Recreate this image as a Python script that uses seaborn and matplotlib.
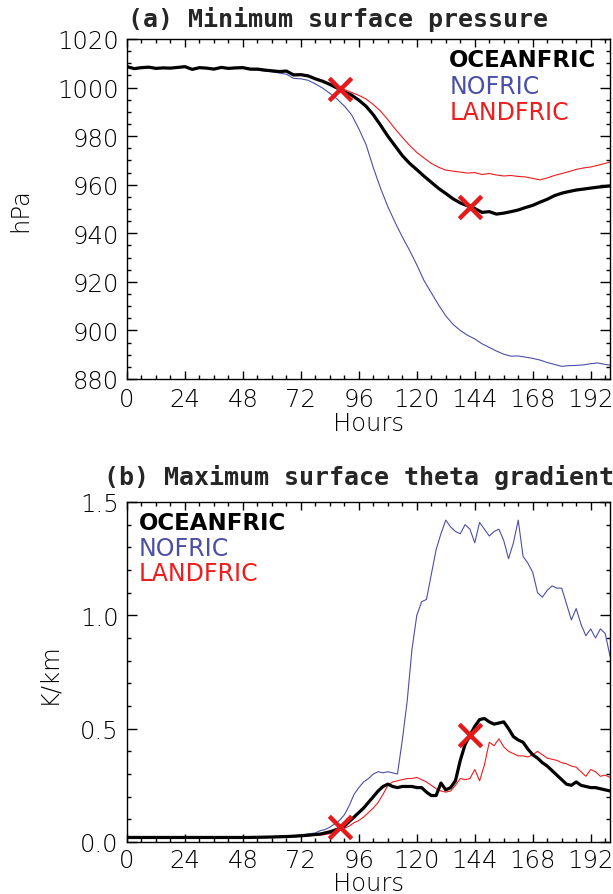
import numpy as np
import pandas as pd
import matplotlib
matplotlib.use("Agg")
import matplotlib.pyplot as plt
import seaborn as sns
from matplotlib.ticker import MultipleLocator

# ---------------- data ----------------
hours_a = list(range(0, 202, 3))
ocean_a = [1008.6, 1007.8, 1008.2, 1008.4, 1007.9, 1008.1, 1008.0, 1008.3, 1008.6, 1007.5,
           1008.2, 1008.0, 1007.6, 1008.3, 1007.9, 1008.1, 1008.2, 1007.6, 1007.6, 1007.2,
           1006.9, 1006.6, 1006.8, 1005.2, 1005.3, 1004.8, 1003.6, 1002.6, 1001.3, 999.8,
           998.2, 996.9, 994.8, 992.3, 988.8, 984.5, 980.0, 976.0, 972.0, 968.8,
           966.2, 963.5, 961.0, 958.5, 956.4, 954.2, 952.5, 951.3, 950.2, 948.6,
           948.9, 947.9, 948.3, 948.9, 949.6, 950.6, 951.5, 952.8, 954.0, 955.5,
           956.5, 957.2, 957.8, 958.2, 958.6, 959.0, 959.3, 959.6]
nofric_a = [1008.5, 1007.7, 1008.1, 1008.3, 1007.8, 1008.0, 1007.9, 1008.2, 1008.5, 1007.4,
            1008.1, 1007.9, 1007.5, 1008.2, 1007.8, 1008.0, 1008.0, 1007.4, 1007.2, 1006.8,
            1006.5, 1006.0, 1005.5, 1003.8, 1003.6, 1003.0, 1001.5, 999.8, 997.6, 995.3,
            992.4, 988.8, 983.0, 976.5, 967.0, 958.5, 951.0, 944.5, 938.5, 933.0,
            927.0, 920.5, 915.5, 910.5, 906.0, 902.5, 900.0, 898.0, 896.5, 894.5,
            893.0, 891.5, 890.2, 889.4, 889.5, 889.0, 888.5, 887.8, 886.8, 886.0,
            885.2, 885.5, 885.6, 885.8, 886.3, 886.6, 886.0, 885.6]
land_a = [1008.8, 1008.0, 1008.4, 1008.6, 1008.1, 1008.3, 1008.2, 1008.5, 1008.8, 1007.7,
          1008.4, 1008.2, 1007.8, 1008.5, 1008.1, 1008.3, 1008.4, 1007.8, 1007.8, 1007.4,
          1007.1, 1006.8, 1007.0, 1005.5, 1005.6, 1005.1, 1003.9, 1002.9, 1001.6, 1000.3,
          999.2, 998.0, 996.8, 995.3, 993.0, 990.3, 986.8, 983.0, 979.5, 976.2,
          973.3, 971.0, 968.8, 967.2, 966.0, 965.6, 965.2, 964.8, 965.0, 964.2,
          964.6, 964.0, 963.6, 963.8, 963.4, 963.2, 962.6, 962.0, 962.8, 963.8,
          964.6, 965.4, 966.3, 966.9, 967.3, 968.0, 968.8, 969.6]

hours_b = [0, 10, 20, 30, 40, 50, 60, 66, 70, 74, 78] + list(range(80, 202, 2))
ocean_b = [0.020, 0.020, 0.020, 0.020, 0.020, 0.020, 0.022, 0.024, 0.026, 0.029, 0.033,
           0.035, 0.040, 0.045, 0.052, 0.060, 0.070, 0.090, 0.110, 0.130, 0.150,
           0.175, 0.200, 0.225, 0.245, 0.255, 0.245, 0.240, 0.245, 0.245, 0.245,
           0.240, 0.240, 0.220, 0.205, 0.205, 0.260, 0.230, 0.240, 0.270, 0.360,
           0.430, 0.470, 0.510, 0.540, 0.545, 0.530, 0.520, 0.525, 0.530, 0.500,
           0.465, 0.450, 0.440, 0.410, 0.385, 0.370, 0.350, 0.335, 0.315, 0.295,
           0.275, 0.255, 0.250, 0.265, 0.250, 0.245, 0.240, 0.240, 0.235, 0.230,
           0.225]
nofric_b = [0.020, 0.020, 0.020, 0.020, 0.020, 0.021, 0.024, 0.027, 0.030, 0.034, 0.040,
            0.050, 0.055, 0.065, 0.080, 0.095, 0.120, 0.160, 0.210, 0.240, 0.265,
            0.280, 0.300, 0.310, 0.305, 0.310, 0.305, 0.300, 0.450, 0.620, 0.850,
            1.000, 1.060, 1.070, 1.180, 1.290, 1.360, 1.420, 1.390, 1.370, 1.360,
            1.400, 1.380, 1.320, 1.410, 1.380, 1.350, 1.370, 1.380, 1.330, 1.250,
            1.320, 1.420, 1.260, 1.230, 1.190, 1.100, 1.080, 1.110, 1.130, 1.120,
            1.120, 1.050, 0.980, 1.030, 0.960, 0.910, 0.940, 0.900, 0.940, 0.920,
            0.820]
land_b = [0.018, 0.018, 0.018, 0.018, 0.018, 0.019, 0.020, 0.022, 0.024, 0.026, 0.030,
          0.030, 0.033, 0.037, 0.042, 0.050, 0.060, 0.070, 0.085, 0.095, 0.110,
          0.130, 0.150, 0.175, 0.210, 0.250, 0.265, 0.270, 0.275, 0.280, 0.280,
          0.285, 0.275, 0.265, 0.250, 0.235, 0.225, 0.220, 0.225, 0.250, 0.280,
          0.275, 0.280, 0.320, 0.270, 0.340, 0.440, 0.425, 0.455, 0.420, 0.400,
          0.390, 0.380, 0.380, 0.375, 0.385, 0.400, 0.385, 0.370, 0.365, 0.360,
          0.350, 0.345, 0.335, 0.330, 0.310, 0.290, 0.320, 0.310, 0.290, 0.295,
          0.285]

mark_hours = [88, 142]
mark_a = [999.5, 951.0]
mark_b = [0.065, 0.47]

series_names = ["OCEANFRIC", "NOFRIC", "LANDFRIC"]
x_ticks = [0, 24, 48, 72, 96, 120, 144, 168, 192]

# ---------------- style ----------------
sns.set_theme(style="ticks")
plt.rcParams["font.family"] = ["DejaVu Sans"]

BLUE = "#4b4fa8"
RED = "#ee1c1c"
colors = {"OCEANFRIC": "black", "NOFRIC": BLUE, "LANDFRIC": RED}
widths = {"OCEANFRIC": 2.3, "NOFRIC": 0.8, "LANDFRIC": 0.8}

W, H = 613, 895
fig = plt.figure(figsize=(W / 100, H / 100), dpi=100)

def px_axes(l, t, r, b):
    return fig.add_axes([l / W, 1 - b / H, (r - l) / W, (b - t) / H])

ax_a = px_axes(127, 40, 610, 380)
ax_b = px_axes(127, 503, 610, 843)

df_a = pd.DataFrame({"Hours": hours_a * 3,
                     "value": ocean_a + nofric_a + land_a,
                     "run": sum([[n] * len(hours_a) for n in series_names], [])})
df_b = pd.DataFrame({"Hours": hours_b * 3,
                     "value": ocean_b + nofric_b + land_b,
                     "run": sum([[n] * len(hours_b) for n in series_names], [])})

for ax, df in ((ax_a, df_a), (ax_b, df_b)):
    for name in ["NOFRIC", "LANDFRIC", "OCEANFRIC"]:
        sub = df[df["run"] == name]
        sns.lineplot(data=sub, x="Hours", y="value", ax=ax, color=colors[name],
                     linewidth=widths[name], legend=False, estimator=None,
                     zorder=3 if name == "OCEANFRIC" else 2)

sns.scatterplot(x=mark_hours, y=mark_a, ax=ax_a, marker="x", s=260,
                color="#e41a1a", linewidth=3.2, zorder=5, legend=False)
sns.scatterplot(x=mark_hours, y=mark_b, ax=ax_b, marker="x", s=260,
                color="#e41a1a", linewidth=3.2, zorder=5, legend=False)

FS = 17.5
TICK_COLOR = "black"
for ax in (ax_a, ax_b):
    ax.set_xlim(0, 200)
    ax.xaxis.set_major_locator(MultipleLocator(24))
    ax.xaxis.set_minor_locator(MultipleLocator(6))
    ax.set_xticks(x_ticks)
    ax.tick_params(axis="both", which="both", direction="in", top=True, right=True,
                   labelsize=FS, colors="black", labelcolor=TICK_COLOR, width=1.0)
    ax.tick_params(axis="x", which="major", length=5.5, pad=6)
    ax.tick_params(axis="y", which="major", length=7.5, pad=6)
    ax.tick_params(axis="both", which="minor", length=3)
    for s in ax.spines.values():
        s.set_linewidth(1.0)
        s.set_color("black")
    ax.set_facecolor("white")

ax_b.tick_params(axis="x", which="major", pad=4.5)
ax_a.set_xlabel("Hours", fontsize=FS, labelpad=0, color=TICK_COLOR, fontweight="light")
ax_b.set_xlabel("Hours", fontsize=FS, labelpad=-1.2, color=TICK_COLOR, fontweight="light")

ax_a.set_ylim(880, 1020)
ax_a.yaxis.set_major_locator(MultipleLocator(20))
ax_a.yaxis.set_minor_locator(MultipleLocator(5))
ax_a.set_ylabel("hPa", fontsize=FS, labelpad=18, color=TICK_COLOR, fontweight="light")

ax_b.set_ylim(0, 1.5)
ax_b.yaxis.set_major_locator(MultipleLocator(0.5))
ax_b.yaxis.set_minor_locator(MultipleLocator(0.1))
ax_b.yaxis.set_major_formatter(matplotlib.ticker.FormatStrFormatter("%.1f"))
ax_b.set_ylabel("K/km", fontsize=FS, labelpad=14, color=TICK_COLOR, fontweight="light")
for ax in (ax_a, ax_b):
    for lab in ax.get_xticklabels() + ax.get_yticklabels():
        lab.set_fontweight("light")

# legend-like labels
leg_pos = {ax_a: (0.667, [0.941, 0.862, 0.785]), ax_b: (0.025, [0.941, 0.865, 0.791])}
for ax, (lx, lys) in leg_pos.items():
    for name, ly in zip(series_names, lys):
        ax.text(lx, ly, name, transform=ax.transAxes, ha="left", va="center",
                fontsize=17 if name != "OCEANFRIC" else 16.5,
                fontweight="bold" if name == "OCEANFRIC" else "normal",
                color=colors[name])

fig.text(128 / W, 1 - 20 / H, "(a) Minimum surface pressure", ha="left", va="center",
         fontsize=18, fontweight="bold", family="DejaVu Sans Mono")
fig.text(104 / W, 1 - 478 / H, "(b) Maximum surface theta gradient", ha="left", va="center",
         fontsize=18, fontweight="bold", family="DejaVu Sans Mono")

fig.savefig("out.png", dpi=100, facecolor="white")
